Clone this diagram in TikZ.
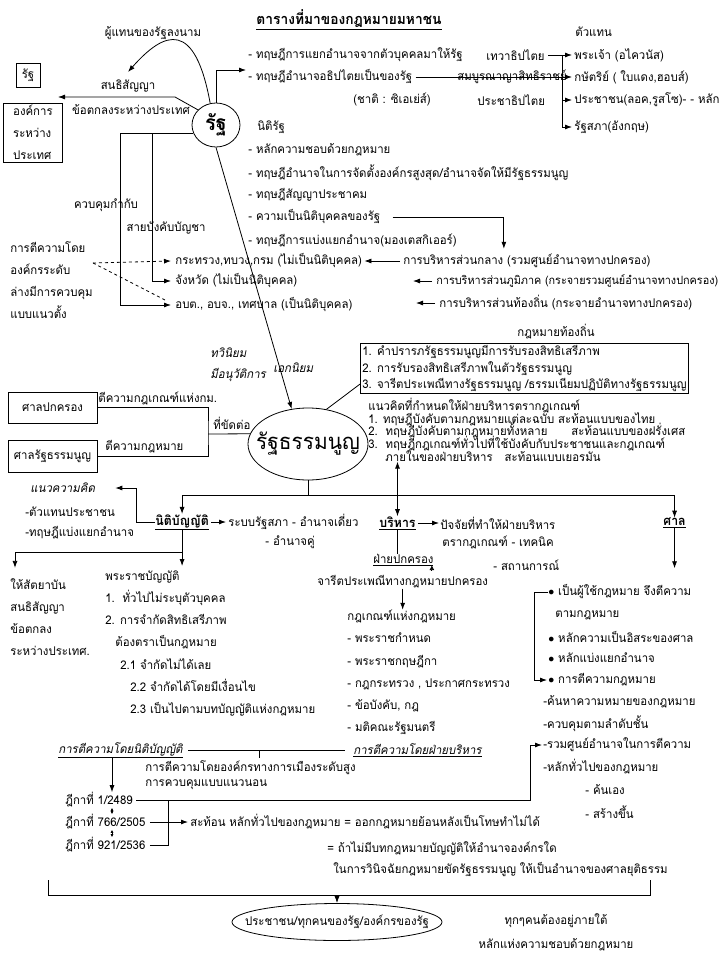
\documentclass[tikz,border=0pt]{standalone}
\usepackage{fontspec}
\setmainfont{Loma}[Script=Thai, FakeStretch=0.95]
\usetikzlibrary{calc, arrows.meta, positioning, shapes.geometric}
\newcommand{\tightskip}{\lineskiplimit=-100pt\relax}

\begin{document}
\begin{tikzpicture}[x=1pt, y=-1pt, line width=0.8pt,
  every node/.style={inner sep=0pt, font=\fontsize{12}{14}\selectfont},
  lt/.style={anchor=west},
  it/.style={anchor=west, font=\fontsize{12}{14}\selectfont\itshape},
  hd/.style={anchor=west, font=\fontsize{13}{15}\selectfont\bfseries},
  ml/.style={anchor=west, align=left, font=\fontsize{12}{22.2}\selectfont\tightskip},
  bx/.style={draw, inner sep=3pt},
  ov/.style={draw, ellipse},
  arr/.style={-{Latex[length=7pt,width=5pt]}},
  darr/.style={{Latex[length=7pt,width=5pt]}-{Latex[length=7pt,width=5pt]}},
  tiny/.style={{Latex[length=3pt,width=3pt]}-{Latex[length=3pt,width=3pt]}}]
\useasboundingbox (0,0) rectangle (720,960);

\node[font=\fontsize{14.5}{16}\selectfont\bfseries] (title) at (349,20) {\underline{ตารางที่มาของกฎหมายมหาชน}};
\node (signer) at (153,33) {ผู้แทนของรัฐลงนาม};
\node[bx, minimum width=24, minimum height=24] (statebox) at (28,75) {รัฐ};
\node (treaty) at (128,86) {สนธิสัญญา};
\node (agree) at (131,110) {ข้อตกลงระหว่างประเทศ};
\node[draw, anchor=north west, align=left, inner xsep=6pt, inner ysep=2pt, minimum width=59, font=\fontsize{12}{22}\selectfont\tightskip] (intl) at (3,103) {องค์การ\\ระหว่าง\\ประเทศ};

\node[ov, minimum width=48, minimum height=44] (state) at (216,125) {};
\node[font=\fontsize{21}{23}\selectfont\bfseries] (statetxt) at (state.center) {รัฐ};
\coordinate (treatyend) at (128,72);
\coordinate (bend) at (175,97);
\coordinate (toorg) at (58,97);
\coordinate (totheory) at (246,70);
\draw[arr] (state.105) .. controls (195,20) and (165,30) .. (treatyend);
\draw[arr] (state.140) -- (bend) -- (toorg);
\draw[arr] (state.north) -- (state.north |- totheory) -- (totheory);

\node[lt] (t1) at (248,55) {- ทฤษฎีการแยกอำนาจจากตัวบุคคลมาให้รัฐ};
\node[lt] (t1b) at (486,55) {เทวาธิปไตย};
\node[lt] (t2) at (248,77) {- ทฤษฎีอำนาจอธิปไตยเป็นของรัฐ};
\node[lt] (t2b) at (457,77) {สมบูรณาญาสิทธิราชย์};
\node[lt] (t3) at (353,100) {(ชาติ : ซิเอเย่ส์)};
\node[lt] (t3b) at (477,100) {ประชาธิปไตย};
\node[lt] (rep) at (575,32) {ตัวแทน};
\node[lt] (g1) at (574,55) {พระเจ้า (อไควนัส)};
\node[lt] (g2) at (574,77) {กษัตริย์ ( ใบแดง,ฮอบส์)};
\node[lt] (g3) at (574,100) {ประชาชน(ลอค,รูสโซ)- - หลัก};
\node[lt] (g4) at (574,127) {รัฐสภา(อังกฤษ)};
\coordinate (rail) at (562,55);
\draw (rail) -- (rail |- g4);
\draw[arr] ([xshift=3pt]t1b.east) -- ([xshift=-2pt]g1.west);
\draw[arr] ([xshift=3pt]t2.east) -- ([xshift=-2pt]g2.west);
\draw[arr] (rail |- g3) -- ([xshift=-2pt]g3.west);
\draw[arr] (rail |- g4) -- ([xshift=-2pt]g4.west);

\node[lt] (nr) at (257,127) {นิติรัฐ};
\node[lt] (n1) at (248,150) {- หลักความชอบด้วยกฎหมาย};
\node[lt] (n2) at (248,173) {- ทฤษฎีอำนาจในการจัดตั้งองค์กรสูงสุด/อำนาจจัดให้มีรัฐธรรมนูญ};
\node[lt] (n3) at (248,195) {- ทฤษฎีสัญญาประชาคม};
\node[lt] (n4) at (248,217) {- ความเป็นนิติบุคคลของรัฐ};
\node[lt] (n5) at (248,240) {- ทฤษฎีการแบ่งแยกอำนาจ(มองเตสกิเออร์)};

\node (ctrl) at (106,205) {ควบคุมกำกับ};
\node (chainlbl) at (166,228) {สายบังคับบัญชา};
\node[lt] (ministry) at (175,261) {กระทรวง,ทบวง,กรม (ไม่เป็นนิติบุคคล)};
\node[lt] (province) at (175,281) {จังหวัด (ไม่เป็นนิติบุคคล)};
\node[lt] (local) at (175,305) {อบต., อบจ., เทศบาล (เป็นนิติบุคคล)};
\node[lt] (central) at (403,261) {การบริหารส่วนกลาง (รวมศูนย์อำนาจทางปกครอง)};
\node[lt, font=\fontsize{11.4}{13}\selectfont] (regional) at (436,281) {การบริหารส่วนภูมิภาค (กระจายรวมศูนย์อำนาจทางปกครอง)};
\node[lt] (localadm) at (439,303) {การบริหารส่วนท้องถิ่น (กระจายอำนาจทางปกครอง)};
\node[ml] (lowint) at (10,280) {การตีความโดย\\องค์กรระดับ\\ล่างมีการควบคุม\\แบบแนวตั้ง};

\coordinate (chain) at ([xshift=-23pt]province.west);
\coordinate (lowsrc) at (93,263);
\draw[arr] (state.200) -| ([xshift=-55pt]local.west) -- ([xshift=-4pt]local.west);
\draw[arr] (chain |- state.200) -- (chain) -- ([xshift=-4pt]province.west);
\draw[arr, dashed] (lowsrc) -- ([xshift=-4pt]ministry.west);
\draw[dashed] (lowsrc) -- ([xshift=-8pt,yshift=4pt]local.west);
\draw[arr] ([xshift=-3pt]central.west) -- ([xshift=2pt]ministry.east);
\draw[arr] ([xshift=-4pt]regional.west) -- ++(-19,0);
\draw[arr] ([xshift=-4pt]localadm.west) -- ++(-19,0);
\draw[arr] ([xshift=12pt]n4.east) -| ([xshift=-23pt,yshift=5pt]central.north);

\node[ov, minimum width=120, minimum height=72] (const) at (308,444) {};
\node[font=\fontsize{22}{24}\selectfont] (consttxt) at (const.center) {รัฐธรรมนูญ};
\draw[arr] (state.south) -- (const.115);
\node[it] (dual1) at (210,353) {ทวินิยม};
\node[it] (dual2) at (210,375) {มีอนุวัติการ};
\node[it] (mono) at (273,368) {เอกนิยม};

\node[bx, minimum width=89, minimum height=31] (admct) at (52.5,407.5) {ศาลปกครอง};
\node[bx, minimum width=89, minimum height=32] (conct) at (52.5,456) {ศาลรัฐธรรมนูญ};
\node[lt] (rulelbl) at (98,398) {ตีความกฎเกณฑ์แห่งกม.};
\node[lt] (conflbl) at (213,423) {ที่ขัดต่อ};
\node[lt] (lawlbl) at (105,447) {ตีความกฎหมาย};
\coordinate (jn) at (208,434);
\draw (admct.east) -| (jn) |- (conct.east);
\draw (jn) -- (const.170);

\node[lt] (locallaw) at (517,332) {กฎหมายท้องถิ่น};
\node[draw, anchor=north west, align=left, inner sep=2pt, font=\fontsize{12}{16.5}\selectfont\tightskip] (rights) at (360,343) {1. คำปรารภรัฐธรรมนูญมีการรับรองสิทธิเสรีภาพ\\2. การรับรองสิทธิเสรีภาพในตัวรัฐธรรมนูญ\\3. จารีตประเพณีทางรัฐธรรมนูญ /ธรรมเนียมปฏิบัติทางรัฐธรรมนูญ};
\draw (const.62) -- ([yshift=10pt]rights.south west);
\node[anchor=north west, align=left, font=\fontsize{12}{12.6}\selectfont\tightskip] (concept) at (368,398) {แนวคิดที่กำหนดให้ฝ่ายบริหารตรากฎเกณฑ์\\1. ทฤษฎีบังคับตามกฎหมายแต่ละฉบับ สะท้อนแบบของไทย\\2.\ \ ทฤษฎีบังคับตามกฎหมายทั้งหลาย\quad\quad สะท้อนแบบของฝรั่งเศส\\3.\ \ ทฤษฎีกฎเกณฑ์ทั่วไปที่ใช้บังคับกับประชาชนและกฎเกณฑ์\\\hspace*{17pt}ภายในของฝ่ายบริหาร\quad สะท้อนแบบเยอรมัน};

\node[hd] (leg) at (155,522) {\underline{นิติบัญญัติ}};
\node[hd] (exe) at (379,523) {\underline{บริหาร}};
\node[hd] (court) at (663,523) {\underline{ศาล}};
\draw (const.south) -- ++(0,15) coordinate (hub);
\draw[arr] (hub) -| (leg.north);
\draw[arr] (hub) -| (court.north);
\draw[darr] (exe.north |- concept.south) -- (exe.north);

\node[lt] (parl) at (228,522) {ระบบรัฐสภา - อำนาจเดี่ยว};
\node[lt] (dual) at (265,542) {- อำนาจคู่};
\draw[arr] ([xshift=2pt]leg.east) -- ([xshift=-2pt]parl.west);
\node[it] (idea) at (30,488) {แนวความคิด};
\node[lt] (people1) at (25,512) {-ตัวแทนประชาชน};
\node[lt] (sepw) at (25,533) {-ทฤษฎีแบ่งแยกอำนาจ};
\draw[arr] (leg.west) -- ++(-19,0) |- ([xshift=20pt]idea.east);
\path (leg.south) ++(0,22) coordinate (legjn);
\node[ml] (ratify) at (10,617) {ให้สัตยาบัน\\สนธิสัญญา\\ข้อตกลง\\ระหว่างประเทศ.};
\node[ml] (act) at (105,643.5) {พระราชบัญญัติ\\1.\ \ ทั่วไปไม่ระบุตัวบุคคล\\2. การจำกัดสิทธิเสรีภาพ\\\hspace*{10pt}ต้องตราเป็นกฎหมาย\\\hspace*{15pt}2.1 จำกัดไม่ได้เลย\\\hspace*{25pt}2.2 จำกัดได้โดยมีเงื่อนไข\\\hspace*{25pt}2.3 เป็นไปตามบทบัญญัติแห่งกฎหมาย};
\draw[arr] (leg.south) -- (legjn) -- ++(0,14);
\draw[arr] (legjn) -| ([xshift=5pt,yshift=10pt]ratify.north west);

\node[lt] (factor) at (440,523) {ปัจจัยที่ทำให้ฝ่ายบริหาร};
\node[lt] (tech) at (442,542) {ตรากฎเกณฑ์ - เทคนิค};
\node[lt] (situ) at (493,565) {- สถานการณ์};
\draw[arr] ([xshift=2pt]exe.east) -- ([xshift=-1pt]factor.west);
\node[lt] (govt) at (373,560) {\underline{ฝ่ายปกครอง}};
\draw (exe.south) -- (exe.south |- govt.north);
\draw[-{Latex[length=5pt,width=5pt]}] ([xshift=-2pt,yshift=-4pt]govt.south east) -- ++(0,-5);
\node[lt] (custom) at (317,582) {จารีตประเพณีทางกฎหมายปกครอง};
\node[ml] (rules) at (347,672.5) {กฎเกณฑ์แห่งกฎหมาย\\- พระราชกำหนด\\- พระราชกฤษฎีกา\\- กฎกระทรวง , ประกาศกระทรวง\\- ข้อบังคับ, กฎ\\- มติคณะรัฐมนตรี};
\draw[arr] (custom.south) -- (custom.south |- rules.north);

\draw[arr] (court.south) -- ++(0,40);
\node[lt] (cb1) at (548,592) {$\bullet$ เป็นผู้ใช้กฎหมาย จึงตีความ};
\node[lt] (cb1b) at (555,615) {ตามกฎหมาย};
\node[lt] (cb2) at (548,637) {$\bullet$ หลักความเป็นอิสระของศาล};
\node[lt] (cb3) at (548,658) {$\bullet$ หลักแบ่งแยกอำนาจ};
\node[lt] (cb4) at (548,680) {$\bullet$ การตีความกฎหมาย};
\node[lt] (cd1) at (543,702) {-ค้นหาความหมายของกฎหมาย};
\node[lt] (cd2) at (543,724) {-ควบคุมตามลำดับชั้น};
\node[lt] (cd3) at (543,745) {-รวมศูนย์อำนาจในการตีความ};
\node[lt] (cd4) at (543,767) {-หลักทั่วไปของกฎหมาย};
\node[lt] (cd5) at (585,790) {- ค้นเอง};
\node[lt] (cd6) at (585,812) {- สร้างขึ้น};
\draw[arr] (cb1.west) -- ++(-14,0) |- ([xshift=-1pt]cb4.west);

\node[it] (legint) at (58,750) {\underline{การตีความโดยนิติบัญญัติ}};
\node[it] (exeint) at (353,750) {\underline{การตีความโดยฝ่ายบริหาร}};
\draw ([xshift=5pt]legint.east) -- ([xshift=-8pt]exeint.west);
\draw ($(legint.east)!.45!(exeint.west)$) -- ++(0,8);
\node[anchor=west, align=left, font=\fontsize{12}{15}\selectfont\tightskip] (polit) at (145,775.5) {การตีความโดยองค์กรทางการเมืองระดับสูง\\การควบคุมแบบแนวนอน};
\node[lt] (d1) at (65,800) {ฎีกาที่ 1/2489};
\node[lt] (d2) at (65,822) {ฎีกาที่ 766/2505};
\node[lt] (d3) at (65,845) {ฎีกาที่ 921/2536};
\coordinate (dk) at (112,0);
\coordinate (bk) at (168,0);
\coordinate (rj) at (530,0);
\draw[arr] (dk |- legint.south) -- (dk |- d1.north);
\draw[tiny] (dk |- d1.south) -- (dk |- d2.north);
\draw[tiny] (dk |- d2.south) -- (dk |- d3.north);
\draw[arr] ([xshift=3pt]d1.east) -| (rj |- cd3.west) -- ([xshift=-1pt]cd3.west);
\draw ([xshift=4pt]d3.east) -| (bk |- d1.east);
\node[lt] (refl) at (190,822) {สะท้อน หลักทั่วไปของกฎหมาย = ออกกฎหมายย้อนหลังเป็นโทษทำไม่ได้};
\draw[arr] ([xshift=4pt]d2.east) -- ([xshift=-2pt]refl.west);
\node[lt] (refl2) at (327,848) {= ถ้าไม่มีบทกฎหมายบัญญัติให้อำนาจองค์กรใด};
\node[lt] (refl3) at (333,870) {ในการวินิจฉัยกฎหมายขัดรัฐธรรมนูญ ให้เป็นอำนาจของศาลยุติธรรม};

\coordinate (bl) at (48,880);
\coordinate (br) at (650,880);
\coordinate (bb) at (0,895);
\draw (bl) |- (bb -| br) -- (br);
\node[ov, minimum width=210, minimum height=37] (people) at (337,922) {};
\node (peopletxt) at (people.center) {ประชาชน/ทุกคนของรัฐ/องค์กรของรัฐ};
\draw[arr] (people.north |- bb) -- (people.north);
\node (all1) at (556,921) {ทุกๆคนต้องอยู่ภายใต้};
\node (all2) at (556,945) {หลักแห่งความชอบด้วยกฎหมาย};
\end{tikzpicture}
\end{document}
